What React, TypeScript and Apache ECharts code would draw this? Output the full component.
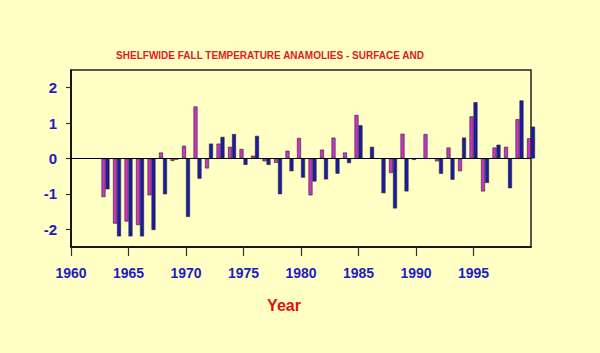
import React, { useEffect, useRef } from "react";
import * as echarts from "echarts";

const years = [
  1963, 1964, 1965, 1966, 1967, 1968, 1969, 1970, 1971, 1972, 1973, 1974, 1975,
  1976, 1977, 1978, 1979, 1980, 1981, 1982, 1983, 1984, 1985, 1986, 1987, 1988,
  1989, 1990, 1991, 1992, 1993, 1994, 1995, 1996, 1997, 1998, 1999, 2000,
];
const surface: (number | null)[] = [
  -1.09, -1.84, -1.78, -1.88, -1.04, 0.17, -0.07, 0.36, 1.47, -0.28, 0.42, 0.33, 0.27,
  0.08, -0.08, -0.12, 0.22, 0.58, -1.04, 0.25, 0.59, 0.17, 1.23, null, null, -0.41,
  0.7, -0.04, 0.69, -0.08, 0.31, -0.36, 1.19, -0.93, 0.31, 0.33, 1.11, 0.57,
];
const bottom: (number | null)[] = [
  -0.87, -2.2, -2.2, -2.2, -2.02, -1.01, -0.03, -1.65, -0.57, 0.42, 0.61, 0.69, -0.18,
  0.64, -0.18, -1.01, -0.36, -0.54, -0.65, -0.59, -0.43, -0.13, 0.94, 0.33, -0.98, -1.41,
  -0.93, null, null, -0.43, -0.6, 0.59, 1.59, -0.69, 0.39, -0.84, 1.64, 0.9,
];
const xTicks = [1960, 1965, 1970, 1975, 1980, 1985, 1990, 1995];
const yTicks = [-2, -1, 0, 1, 2];
const titleText = "SHELFWIDE FALL TEMPERATURE ANAMOLIES - SURFACE AND";
const xName = "Year";

export default function App() {
  const ref = useRef<HTMLDivElement>(null);
  useEffect(() => {
    document.body.style.margin = "0";
    const chart = echarts.init(ref.current!, null, { renderer: "svg" });
    const font = "Arial, 'Liberation Sans', sans-serif";
    chart.setOption({
      animation: false,
      backgroundColor: "#ffffc6",
      grid: {
        left: 71,
        right: 69,
        top: 70,
        bottom: 106,
        show: true,
        borderColor: "#222",
        borderWidth: 1.5,
        backgroundColor: "transparent",
      },
      graphic: [
        {
          type: "text",
          x: 270,
          y: 55,
          style: {
            text: titleText,
            fill: "#e02020",
            font: `bold 10px ${font}`,
            textAlign: "center",
            textVerticalAlign: "middle",
          },
        },
        {
          type: "text",
          x: 284,
          y: 305,
          style: {
            text: xName,
            fill: "#dd1111",
            font: `bold 16px ${font}`,
            textAlign: "center",
            textVerticalAlign: "middle",
          },
        },
      ],
      xAxis: {
        type: "value",
        min: 1960,
        max: 2000,
        interval: 5,
        axisLine: { show: true, onZero: false, lineStyle: { color: "#000", width: 1.5 } },
        axisTick: {
          show: true,
          inside: false,
          length: 9,
          customValues: xTicks,
          lineStyle: { color: "#333", width: 1.2 },
        },
        splitLine: { show: false },
        axisLabel: {
          customValues: xTicks,
          formatter: (v: number) => String(v),
          color: "#1c1cc4",
          fontWeight: "bold",
          fontSize: 14,
          fontFamily: font,
          margin: 19,
        },
      },
      yAxis: {
        type: "value",
        min: -2.5,
        max: 2.5,
        axisLine: { show: true, onZero: false, lineStyle: { color: "#000", width: 1.5 } },
        axisTick: {
          show: true,
          inside: false,
          length: 5,
          customValues: yTicks,
          lineStyle: { color: "#333", width: 1.2 },
        },
        splitLine: { show: false },
        axisLabel: {
          customValues: yTicks,
          formatter: (v: number) => String(v),
          color: "#1c1cc4",
          fontWeight: "bold",
          fontSize: 15,
          fontFamily: font,
          margin: 14,
        },
      },
      series: [
        {
          name: "Surface",
          type: "bar",
          data: years.map((y, i) => [y, surface[i]]),
          barWidth: 4,
          barGap: "0%",
          clip: false,
          itemStyle: { color: "#cc33cc", borderColor: "#222", borderWidth: 0.6 },
          markLine: {
            silent: true,
            symbol: "none",
            label: { show: false },
            lineStyle: { color: "#000", width: 1, type: "solid" },
            data: [{ yAxis: 0 }],
          },
        },
        {
          name: "Bottom",
          type: "bar",
          data: years.map((y, i) => [y, bottom[i]]),
          barWidth: 4,
          barGap: "0%",
          clip: false,
          itemStyle: { color: "#1a1aaa", borderColor: "#222", borderWidth: 0.6 },
        },
      ],
    });
    return () => chart.dispose();
  }, []);
  return <div ref={ref} style={{ width: 600, height: 353 }} />;
}
